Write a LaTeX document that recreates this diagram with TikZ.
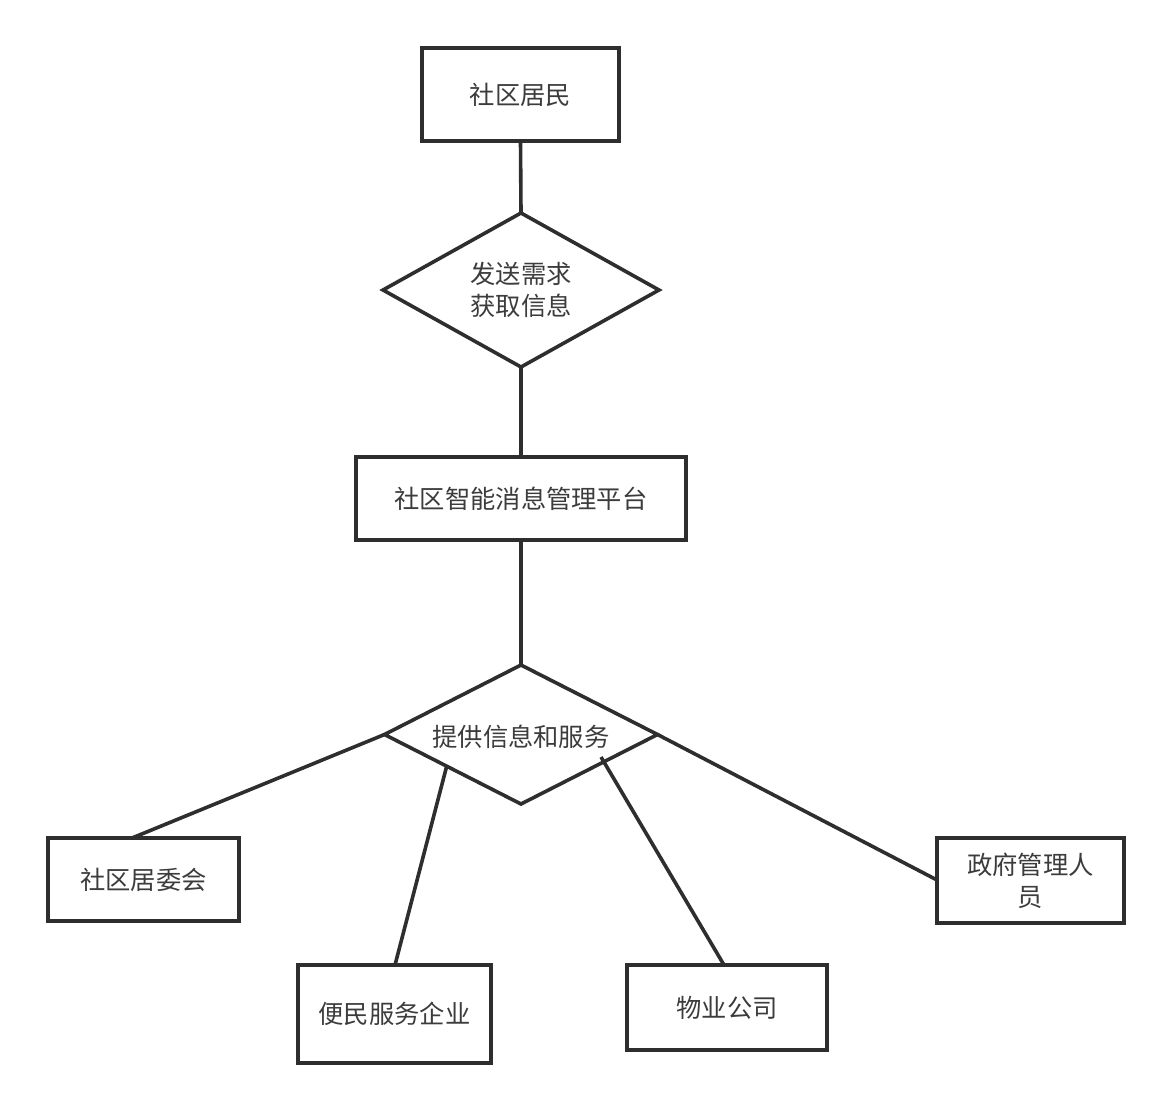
\documentclass[tikz,border=0pt]{standalone}
\usepackage{fontspec}
\setmainfont{Noto Sans CJK SC}
\usetikzlibrary{shapes.geometric}
\definecolor{ink}{HTML}{2E2E2E}
\definecolor{txt}{HTML}{3C3C3C}
\tikzset{
  box/.style={draw=ink, line width=3.6pt, rectangle, inner sep=0pt, outer sep=0pt, align=center, text=txt, font=\fontsize{25.3}{32}\selectfont},
  dia/.style={draw=ink, line width=3.6pt, diamond, aspect=2, inner sep=0pt, outer sep=0pt, align=center, text=txt, font=\fontsize{25.3}{32}\selectfont},
  link/.style={draw=ink, line width=3.6pt}
}
\begin{document}
\begin{tikzpicture}[x=1pt,y=-1pt]
\useasboundingbox[fill=white] (0,0) rectangle (1172,1111);
\node[box, minimum width=197pt, minimum height=93pt] (res) at (520.5,94.5) {社区居民};
\node[dia, minimum width=276pt, minimum height=154pt] (d1) at (521,290) {发送需求\\获取信息};
\node[box, minimum width=330pt, minimum height=83pt] (plat) at (521,498.5) {社区智能消息管理平台};
\node[dia, minimum width=273pt, minimum height=139pt] (d2) at (521,734.5) {};
\node[text=txt, font=\fontsize{25.3}{32}\selectfont] (d2t) at (521,737) {提供信息和服务};
\node[box, minimum width=191pt, minimum height=83pt] (jwh) at (143.5,879.5) {社区居委会};
\node[box, minimum width=193pt, minimum height=98pt] (bm) at (394.5,1014) {便民服务企业};
\node[box, minimum width=200pt, minimum height=85pt] (wy) at (727,1007.5) {物业公司};
\node[box, minimum width=187pt, minimum height=85pt] (zf) at (1030.5,880.5) {政府管理人\\员};
\coordinate (jwhA) at (132,838);
\coordinate (bmA) at (395,965);
\coordinate (wyA) at (724,965);
\coordinate (zfA) at (937,880);
\coordinate (d2a) at (447,765);
\coordinate (d2b) at (601,757);
\draw[link] (res.south) -- (d1.north);
\draw[link] (d1.south) -- (plat.north);
\draw[link] (plat.south) -- (d2.north);
\draw[link] (d2.west) -- (jwhA);
\draw[link] (d2a) -- (bmA);
\draw[link] (d2b) -- (wyA);
\draw[link] (d2.east) -- (zfA);
\end{tikzpicture}
\end{document}
